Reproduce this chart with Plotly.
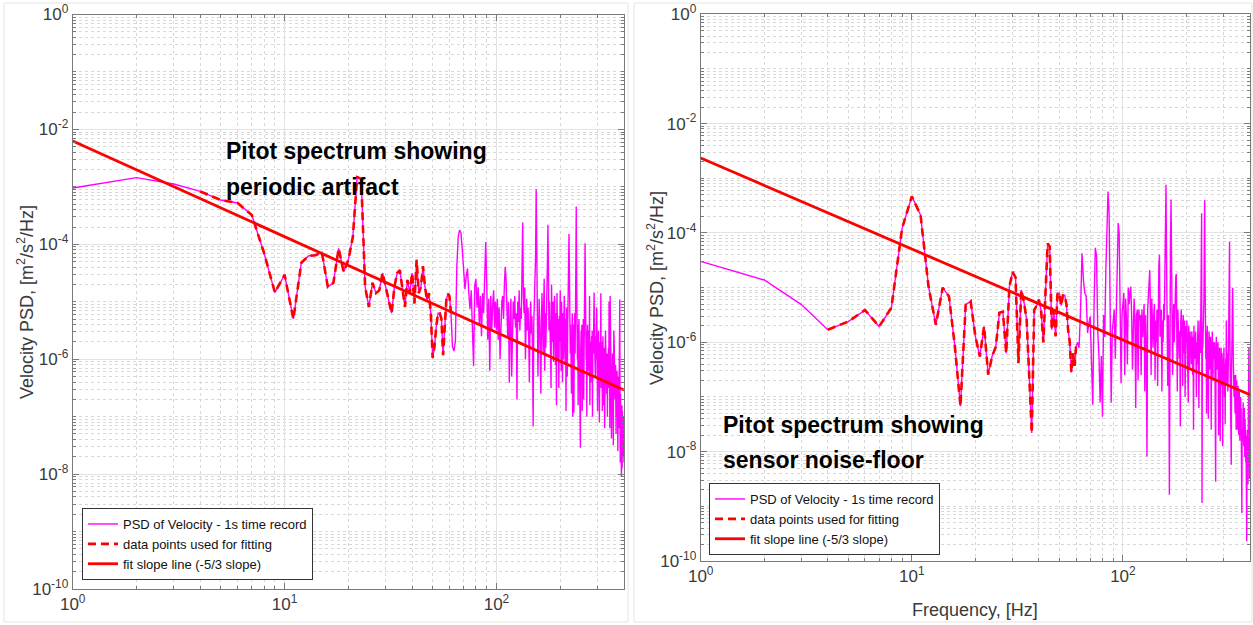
import plotly.graph_objects as go

# ---------------- data (log10 of PSD, 1 Hz bins) ----------------
freq = list(range(1, 401))

psd_left_log = [
    -3.02, -2.84, -2.95, -3.08, -3.23, -3.28, -3.49, -4.15, -4.84, -4.53,
    -5.30, -4.32, -4.20, -4.19, -4.14, -4.74, -4.67, -4.07, -4.48, -4.27,
    -3.87, -2.83, -2.86, -4.74, -5.09, -4.67, -4.85, -4.80, -4.50, -4.74,
    -4.97, -5.20, -4.74, -4.50, -4.45, -4.74, -5.09, -4.62, -4.85, -4.50,
    -5.03, -4.27, -4.85, -4.74, -4.38, -4.74, -4.97, -4.85, -5.20, -5.98,
    -5.78, -5.43, -5.20, -5.20, -5.30, -5.93, -5.40, -4.97, -4.86, -4.90,
    -5.20, -5.78, -5.86, -5.69, -4.39, -3.87, -3.75, -3.80, -4.10, -4.38,
    -4.78, -4.56, -4.42, -4.84, -5.13, -4.80, -5.54, -6.12, -4.72, -4.60,
    -5.10, -4.75, -5.40, -4.90, -5.60, -4.85, -5.20, -4.60, -3.96, -4.70,
    -5.66, -4.95, -6.20, -4.90, -5.50, -5.05, -4.80, -5.45, -5.00, -5.50,
    -4.95, -5.66, -5.10, -6.00, -5.35, -5.00, -4.90, -5.30, -4.70, -4.39,
    -4.60, -5.20, -5.60, -5.00, -6.41, -5.40, -4.95, -6.30, -5.50, -5.00,
    -5.30, -4.90, -5.45, -5.20, -6.70, -5.00, -5.35, -4.80, -5.50, -5.10,
    -5.30, -4.60, -3.62, -4.90, -5.20, -4.75, -6.00, -5.40, -4.95, -5.50,
    -5.10, -5.60, -6.40, -5.40, -5.00, -5.55, -5.25, -5.80, -7.17, -5.40,
    -5.00, -4.80, -4.20, -3.04, -4.70, -5.40, -6.30, -5.60, -4.95, -5.30,
    -5.70, -6.60, -5.45, -4.85, -5.30, -5.90, -5.10, -4.60, -6.20, -5.20,
    -5.80, -4.90, -5.20, -4.30, -3.66, -4.90, -5.50, -5.00, -5.30, -5.90,
    -6.50, -4.70, -5.40, -5.70, -5.00, -6.05, -5.30, -4.90, -5.50, -6.10,
    -5.20, -6.80, -4.85, -5.40, -6.00, -5.30, -6.50, -5.25, -5.70, -4.80,
    -5.50, -6.20, -5.00, -5.40, -6.40, -5.20, -6.00, -5.35, -4.90, -5.60,
    -6.10, -5.30, -6.90, -5.10, -5.80, -6.30, -5.40, -5.00, -4.60, -3.82,
    -4.50, -5.30, -5.90, -5.40, -6.00, -6.60, -6.40, -5.20, -7.00, -6.10,
    -5.40, -6.93, -5.60, -5.20, -5.90, -5.30, -4.40, -3.34, -4.60, -5.50,
    -6.00, -5.40, -6.80, -5.70, -5.30, -6.10, -5.60, -6.30, -7.54, -5.80,
    -5.50, -6.00, -5.40, -6.90, -5.70, -5.90, -5.30, -6.70, -5.60, -5.20,
    -4.60, -3.98, -4.80, -5.70, -6.00, -5.50, -7.00, -5.80, -5.40, -6.20,
    -5.70, -6.00, -5.50, -6.30, -4.90, -6.80, -6.10, -5.70, -6.40, -5.90,
    -5.60, -6.20, -5.50, -7.00, -5.70, -6.50, -5.90, -5.30, -4.84, -5.60,
    -6.10, -5.70, -6.30, -5.60, -6.00, -5.40, -5.10, -5.50, -6.20, -6.90,
    -6.40, -5.90, -5.50, -6.10, -5.70, -7.10, -6.00, -5.80, -6.30, -5.60,
    -4.85, -6.50, -5.90, -6.20, -5.70, -6.90, -6.00, -5.60, -6.30, -6.80,
    -5.90, -6.20, -5.80, -7.20, -6.00, -5.70, -5.50, -5.80, -6.30, -6.00,
    -6.60, -6.10, -5.90, -7.00, -6.00, -6.70, -6.20, -5.80, -6.50, -5.00,
    -6.30, -5.90, -7.20, -4.90, -6.20, -6.40, -6.00, -6.50, -7.38, -6.80,
    -6.10, -6.40, -5.90, -6.60, -6.30, -7.50, -6.20, -5.50, -5.90, -5.80,
    -6.50, -6.20, -6.70, -6.40, -6.10, -6.80, -7.30, -6.60, -7.00, -6.40,
    -6.20, -6.70, -6.50, -7.60, -6.40, -6.80, -6.30, -7.20, -6.60, -6.90,
    -6.40, -4.96, -6.70, -7.80, -6.60, -6.90, -7.40, -6.80, -8.04, -7.00,
    -6.80, -7.90, -6.90, -7.50, -7.70, -7.40, -7.00, -7.60, -7.30, -7.80,
]

psd_right_log = [
    -4.52, -4.86, -5.31, -5.77, -5.62, -5.41, -5.71, -5.37, -3.91, -3.33,
    -3.67, -4.98, -5.68, -5.00, -5.16, -6.08, -7.17, -5.31, -5.25, -5.89,
    -6.26, -5.71, -6.59, -6.26, -6.08, -5.46, -5.44, -6.20, -4.98, -4.71,
    -4.81, -6.38, -5.04, -5.27, -5.59, -6.63, -7.66, -5.41, -5.33, -5.22,
    -5.44, -6.00, -5.10, -4.19, -4.25, -5.77, -5.41, -5.89, -5.10, -5.10,
    -5.33, -5.14, -5.14, -5.30, -5.77, -6.00, -6.55, -6.20, -6.43, -6.08,
    -6.00, -6.10, -5.41, -4.37, -4.86, -5.10, -5.15, -5.83, -5.65, -5.53,
    -6.38, -7.14, -5.33, -4.27, -4.42, -5.80, -6.25, -7.10, -6.25, -7.36,
    -5.50, -5.90, -4.70, -3.58, -3.24, -3.62, -5.30, -7.10, -5.80, -5.55,
    -5.40, -6.30, -5.25, -4.60, -3.82, -4.00, -5.10, -6.75, -5.50, -5.30,
    -5.10, -6.60, -5.20, -5.60, -6.40, -5.00, -5.30, -5.10, -4.98, -5.50,
    -6.50, -5.80, -5.20, -5.60, -7.20, -5.50, -5.40, -6.70, -5.40, -5.60,
    -5.50, -6.60, -5.40, -5.90, -5.60, -5.30, -6.90, -5.50, -6.00, -8.09,
    -5.40, -5.20, -5.00, -4.68, -5.40, -6.60, -5.20, -5.80, -6.10, -5.50,
    -5.30, -6.70, -5.60, -6.00, -5.40, -6.80, -5.10, -4.60, -4.40, -5.90,
    -5.50, -5.40, -6.90, -5.60, -6.00, -5.30, -5.60, -4.80, -3.80, -3.12,
    -4.60, -5.40, -6.80, -5.50, -6.20, -8.79, -5.30, -4.20, -3.39, -5.20,
    -5.60, -6.60, -5.70, -5.30, -6.00, -5.50, -5.20, -4.80, -4.75, -5.60,
    -6.90, -5.40, -6.00, -5.70, -6.30, -5.80, -7.54, -5.60, -5.40, -5.90,
    -5.60, -6.80, -5.50, -5.80, -6.20, -5.60, -7.00, -6.40, -5.70, -6.00,
    -5.60, -6.10, -5.80, -7.10, -5.70, -6.00, -6.50, -5.80, -6.20, -5.90,
    -6.40, -5.80, -6.00, -6.60, -5.90, -7.60, -5.70, -6.10, -5.90, -6.30,
    -5.80, -6.20, -7.00, -6.00, -6.40, -5.90, -5.60, -6.10, -7.20, -6.30,
    -5.90, -5.60, -6.20, -5.40, -4.60, -3.64, -8.94, -5.70, -6.10, -5.80,
    -5.60, -5.20, -4.20, -3.40, -4.80, -5.90, -6.30, -5.80, -7.30, -6.00,
    -5.70, -6.20, -5.90, -7.40, -6.10, -5.80, -6.50, -6.00, -6.30, -5.90,
    -6.10, -7.60, -6.00, -6.40, -5.80, -6.20, -6.70, -6.00, -6.40, -6.10,
    -6.30, -6.00, -6.60, -7.20, -8.55, -6.30, -5.90, -6.20, -6.50, -6.10,
    -6.40, -6.00, -6.30, -7.70, -6.20, -6.50, -6.10, -6.80, -7.81, -6.30,
    -6.50, -6.10, -6.40, -6.80, -6.20, -6.60, -7.90, -6.30, -6.70, -6.40,
    -6.10, -6.50, -7.00, -6.40, -7.50, -6.60, -6.30, -6.70, -5.60, -6.40,
    -6.80, -6.50, -6.20, -6.90, -6.60, -6.30, -5.40, -4.50, -4.30, -4.16,
    -5.80, -6.80, -6.50, -7.30, -7.80, -8.24, -6.60, -6.20, -5.60, -5.20,
    -5.00, -5.40, -6.20, -6.80, -6.40, -7.00, -6.60, -7.20, -6.80, -7.30,
    -6.90, -6.60, -7.20, -7.60, -7.00, -6.70, -7.30, -6.90, -7.60, -7.10,
    -6.80, -7.40, -7.00, -7.70, -7.20, -6.90, -7.50, -7.80, -7.10, -7.40,
    -7.00, -7.60, -7.20, -7.90, -8.40, -9.12, -7.60, -7.20, -7.80, -7.40,
    -7.10, -7.70, -7.30, -7.90, -7.50, -7.20, -7.80, -8.10, -7.40, -7.90,
    -7.60, -8.20, -7.70, -8.40, -8.00, -9.64, -8.20, -7.60, -8.30, -7.90,
    -8.60, -8.10, -7.80, -6.90, -6.10, -6.40, -7.50, -8.50, -7.90, -8.20,
]

# bins used for the fit (inclusive frequency range)
fit_band_left = [4, 61]
fit_band_right = [4, 60]

# -5/3 fit line end points (f, PSD)
fit_f = [1, 400]
fit_left = [6.3e-3, 2.9e-7]
fit_right = [2.35e-3, 1.1e-7]

legend_names = ["PSD of Velocity - 1s time record",
                "data points used for fitting",
                "fit slope line (-5/3 slope)"]

y_major = [1e0, 1e-2, 1e-4, 1e-6, 1e-8, 1e-10]
y_major_text = ["10<sup>0</sup>", "10<sup>-2</sup>", "10<sup>-4</sup>",
                "10<sup>-6</sup>", "10<sup>-8</sup>", "10<sup>-10</sup>"]
x_major = [1, 10, 100]
x_major_text = ["10<sup>0</sup>", "10<sup>1</sup>", "10<sup>2</sup>"]

# ---------------- build ----------------
psd_left = [10 ** v for v in psd_left_log]
psd_right = [10 ** v for v in psd_right_log]

MAG = "#ff00ff"
RED = "#ff0000"

fig = go.Figure()


def add_panel(psd, band, fit_y, xa, ya, leg):
    i0, i1 = band[0] - 1, band[1]
    fig.add_trace(go.Scatter(x=freq, y=psd, mode="lines", name=legend_names[0],
                             line=dict(color=MAG, width=1.4), xaxis=xa, yaxis=ya,
                             legend=leg))
    fig.add_trace(go.Scatter(x=freq[i0:i1], y=psd[i0:i1], mode="lines", name=legend_names[1],
                             line=dict(color=RED, width=2.6, dash="8px,5px"),
                             xaxis=xa, yaxis=ya, legend=leg))
    fig.add_trace(go.Scatter(x=fit_f, y=fit_y, mode="lines", name=legend_names[2],
                             line=dict(color=RED, width=2.8), xaxis=xa, yaxis=ya,
                             legend=leg))


add_panel(psd_left, fit_band_left, fit_left, "x", "y", "legend")
add_panel(psd_right, fit_band_right, fit_right, "x2", "y2", "legend2")

W, H = 1253, 625

x_minor = [m * 10 ** k for k in range(0, 3) for m in range(2, 10) if m * 10 ** k <= 400]
y_minor = []
for k in range(-10, 0):
    for m in range(1, 10):
        if m == 1 and k % 2 == 0:
            continue
        y_minor.append(m * 10.0 ** k)

AX = "#7a7a7a"
TICKF = dict(family="Arial, Liberation Sans, sans-serif", size=17, color="#3a3a3a")
GRID = "#e2e2e2"
MINGRID = "#d8d8d8"


def xaxis(domain, anchor):
    return dict(type="log", range=[0, 2.602], domain=domain, anchor=anchor,
                automargin=False,
                tickmode="array", tickvals=x_major, ticktext=x_major_text,
                tickfont=TICKF, ticks="inside", ticklen=6, tickcolor=AX,
                showline=True, linecolor=AX, linewidth=1, mirror="ticks",
                showgrid=True, gridcolor=GRID, gridwidth=1, zeroline=False,
                minor=dict(tickmode="array", tickvals=x_minor, ticks="inside",
                           ticklen=3, tickcolor=AX, showgrid=True,
                           gridcolor=MINGRID, griddash="dot", gridwidth=1))


def yaxis(domain, anchor):
    return dict(type="log", range=[-10, 0], domain=domain, anchor=anchor,
                automargin=False,
                tickmode="array", tickvals=y_major, ticktext=y_major_text,
                tickfont=TICKF, ticks="inside", ticklen=6, tickcolor=AX,
                showline=True, linecolor=AX, linewidth=1, mirror="ticks",
                showgrid=True, gridcolor=GRID, gridwidth=1, zeroline=False,
                minor=dict(tickmode="array", tickvals=y_minor, ticks="inside",
                           ticklen=3, tickcolor=AX, showgrid=True,
                           gridcolor=MINGRID, griddash="dot", gridwidth=1))


LEGF = dict(family="Arial, Liberation Sans, sans-serif", size=13, color="#111111")
ANNF = dict(family="Liberation Sans Narrow, Arial Narrow, Liberation Sans, Arial, sans-serif",
            size=23, color="#000000", weight="bold")
TITF = dict(family="Arial, Liberation Sans, sans-serif", size=18, color="#3a3a3a")


def note(text, x, y):
    return dict(text=text, xref="paper", yref="paper", x=x / W, y=1 - y / H,
                xanchor="left", yanchor="middle", align="left",
                showarrow=False, font=ANNF)


fig.update_layout(
    width=W, height=H,
    margin=dict(l=0, r=0, t=0, b=0, autoexpand=False),
    paper_bgcolor="white", plot_bgcolor="white",
    xaxis=xaxis([72.7 / W, 624 / W], "y"),
    yaxis=yaxis([1 - 589 / H, 1 - 14.5 / H], "x"),
    xaxis2=xaxis([700.7 / W, 1250 / W], "y2"),
    yaxis2=yaxis([1 - 561 / H, 1 - 14.3 / H], "x2"),
    legend=dict(x=82 / W, y=1 - 508 / H, xanchor="left", yanchor="top",
                bgcolor="white", bordercolor="#333333", borderwidth=1, font=LEGF),
    legend2=dict(x=709 / W, y=1 - 483 / H, xanchor="left", yanchor="top",
                 bgcolor="white", bordercolor="#333333", borderwidth=1, font=LEGF),
    showlegend=True,
    shapes=[
        dict(type="rect", xref="paper", yref="paper", x0=4 / W, x1=628 / W,
             y0=1 - 622 / H, y1=1 - 3 / H, line=dict(color="#e4e4e4", width=1)),
        dict(type="rect", xref="paper", yref="paper", x0=634 / W, x1=1252 / W,
             y0=1 - 622 / H, y1=1 - 3 / H, line=dict(color="#e4e4e4", width=1)),
    ],
    annotations=[
        note("Pitot spectrum showing", 224, 151),
        note("periodic artifact", 224, 187),
        note("Pitot spectrum showing", 721, 425),
        note("sensor noise-floor", 721, 460),
        dict(text="Velocity PSD, [m<sup>2</sup>/s<sup>2</sup>/Hz]", xref="paper", yref="paper",
             x=25 / W, y=1 - 302 / H, xanchor="center", yanchor="middle", textangle=-90,
             showarrow=False, font=TITF),
        dict(text="Velocity PSD, [m<sup>2</sup>/s<sup>2</sup>/Hz]", xref="paper", yref="paper",
             x=655 / W, y=1 - 288 / H, xanchor="center", yanchor="middle", textangle=-90,
             showarrow=False, font=TITF),
        dict(text="Frequency, [Hz]", xref="paper", yref="paper",
             x=975 / W, y=1 - 610 / H, xanchor="center", yanchor="middle",
             showarrow=False, font=TITF),
    ],
)

fig.write_html("out.html")
